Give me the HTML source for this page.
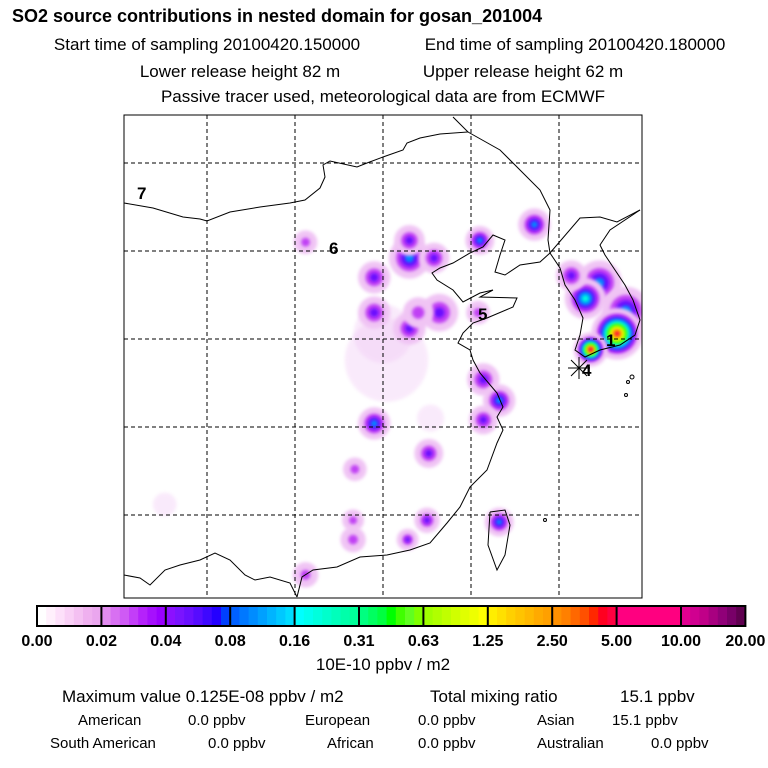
<!DOCTYPE html>
<html><head><meta charset="utf-8"><style>
body{margin:0;background:#fff;width:768px;height:768px;overflow:hidden;font-family:"Liberation Sans",sans-serif}
svg{position:absolute;left:0;top:0}
</style></head><body>
<svg width="768" height="768" viewBox="0 0 768 768">
<defs><filter id="bl" x="-50%" y="-50%" width="200%" height="200%"><feGaussianBlur stdDeviation="1.6"/></filter>
<clipPath id="mc"><rect x="124" y="115" width="518" height="483"/></clipPath></defs>
<g font-weight="bold" font-size="17" text-anchor="start">
<text x="12" y="22" font-size="18">SO2 source contributions in nested domain for gosan_201004</text>
</g>
<g font-size="17" text-anchor="middle">
<text x="207" y="50">Start time of sampling 20100420.150000</text>
<text x="575" y="50">End time of sampling 20100420.180000</text>
<text x="240" y="77">Lower release height   82 m</text>
<text x="523" y="77">Upper release height   62 m</text>
<text x="383" y="102">Passive tracer used, meteorological data are from ECMWF</text>
</g>
<g id="plume" clip-path="url(#mc)"></g>
<g id="grid" stroke="#000" stroke-width="1" stroke-dasharray="4,3"></g>
<g clip-path="url(#mc)" fill="none" stroke="#000" stroke-width="1">
<polyline points="124,203 153,208 183,217 200,219 207,221 230,212 260,207 290,203 305,200 320,188 325,177 323,165 330,161 357,167 367,163 383,157 403,150 407,143 420,138 440,134 468,132 453,117"/>
<polyline points="468,132 500,150 520,170 540,190 550,210 548,240 550,253 580,218 600,217 617,222 640,210"/>
<polyline points="550,253 540,262 520,265 505,275 495,272 500,255 505,240 493,235 483,247 470,253 453,263 440,268 432,273 437,280 453,290 463,302 480,293 493,290 480,297 517,298 513,307 487,318 473,323 463,333 458,343 470,350 473,360 480,373 497,393 503,407 497,417 503,430 497,443 487,470 470,487 460,507 447,523 430,543 410,550 387,555 360,557 337,567 313,570 302,577 297,597"/>
<polyline points="124,575 140,578 150,585 165,570 180,565 200,560 215,553 230,560 245,575 255,580 270,577 290,583 297,597"/>
<polyline points="490,512 505,510 510,525 505,555 497,570 488,545 490,512"/>
<polyline points="550,253 560,268 565,285 575,300 583,318 580,335 575,350 585,357 600,350 620,345 635,335 640,320 633,300 625,285 615,270 605,255 600,245 610,230 640,210"/>
<circle cx="632" cy="377" r="2"/><circle cx="628" cy="382" r="1.5"/><circle cx="626" cy="395" r="1.5"/><circle cx="545" cy="520" r="1.5"/>
</g>
<rect x="124" y="115" width="518" height="483" fill="none" stroke="#000"/>
<g font-size="17" font-weight="bold">
<text x="137" y="199">7</text><text x="329" y="254">6</text><text x="478" y="320">5</text><text x="606" y="346">1</text><text x="582" y="376">4</text>
</g>
<g stroke="#000" stroke-width="1">
<line x1="568" y1="368" x2="590" y2="368"/><line x1="579" y1="357" x2="579" y2="379"/><line x1="571" y1="360" x2="587" y2="376"/><line x1="571" y1="376" x2="587" y2="360"/>
</g>
<g id="cbar"></g>
<text x="383" y="670" font-size="17" text-anchor="middle">10E-10 ppbv / m2</text>
<g font-size="17">
<text x="62" y="702">Maximum value  0.125E-08 ppbv / m2</text>
<text x="430" y="702">Total mixing ratio</text><text x="620" y="702">15.1 ppbv</text>
</g>
<g font-size="15">
<text x="78" y="725">American</text><text x="188" y="725">0.0 ppbv</text>
<text x="305" y="725">European</text><text x="418" y="725">0.0 ppbv</text>
<text x="537" y="725">Asian</text><text x="612" y="725">15.1 ppbv</text>
<text x="50" y="748">South American</text><text x="208" y="748">0.0 ppbv</text>
<text x="327" y="748">African</text><text x="418" y="748">0.0 ppbv</text>
<text x="537" y="748">Australian</text><text x="651" y="748">0.0 ppbv</text>
</g>
</svg>
<script>
const NS="http://www.w3.org/2000/svg";
const cbLabels=["0.00","0.02","0.04","0.08","0.16","0.31","0.63","1.25","2.50","5.00","10.00","20.00"];
const cbColors=[["#ffffff","#fff0fc","#fde0fa","#f9d0f6","#f4c0f2","#efb0ef","#eaa6ee"],
["#e28cf0","#d870f2","#cf5af5","#c33ef8","#b522fb","#a610fd","#9a00ff"],
["#8c10ff","#7a14ff","#6a10ff","#560cff","#3e08ff","#2400ff","#0040ff"],
["#0060ff","#0078ff","#008cff","#00a0ff","#00b4ff","#00c8ff","#00dcff"],
["#00ffff","#00ffee","#00ffdd","#00ffcc","#00ffbb","#00ffaa","#00ff99"],
["#00ff80","#00ff60","#00ff40","#00ff00","#40ff00","#60ff20","#80ff00"],
["#a0ff00","#b0ff00","#c0ff00","#d0ff00","#e0ff00","#eeff00","#ffff00"],
["#ffee00","#ffe000","#ffd000","#ffc400","#ffb800","#ffaa00","#ffa000"],
["#ff9000","#ff8000","#ff6800","#ff5000","#ff2800","#ff0020","#ff0040"],
["#ff0080","#ff0080","#ff0080","#ff0080","#ff0080","#ff0080","#ff0080"],
["#e00090","#d00090","#c00088","#a80080","#900078","#780068","#600050"]];
const cb=document.getElementById('cbar');
const cx0=37,cw=64.4,cy=606,ch=20;
cbColors.forEach((seg,i)=>{seg.forEach((c,j)=>{const r=document.createElementNS(NS,'rect');
r.setAttribute('x',cx0+i*cw+j*cw/7);r.setAttribute('y',cy);r.setAttribute('width',cw/7+0.5);r.setAttribute('height',ch);r.setAttribute('fill',c);


cb.appendChild(r);});});
const fr=document.createElementNS(NS,'rect');fr.setAttribute('x',cx0);fr.setAttribute('y',cy);fr.setAttribute('width',cw*11);fr.setAttribute('height',ch);fr.setAttribute('fill','none');fr.setAttribute('stroke','#000');fr.setAttribute('stroke-width','2');


cb.appendChild(fr);
cbLabels.forEach((l,i)=>{const x=cx0+i*cw;
if(i>0&&i<11){const ln=document.createElementNS(NS,'line');ln.setAttribute('x1',x);ln.setAttribute('x2',x);ln.setAttribute('y1',cy);ln.setAttribute('y2',cy+ch);ln.setAttribute('stroke','#000');ln.setAttribute('stroke-width','2');


cb.appendChild(ln);}
const t=document.createElementNS(NS,'text');t.setAttribute('x',Math.min(Math.max(x,20),746));t.setAttribute('y',646);t.setAttribute('font-size','16');t.setAttribute('font-weight','bold');t.setAttribute('text-anchor','middle');t.textContent=l;


cb.appendChild(t);});
const gridLons=[105,110,115,120,125];
const gridLats=[45,40,35,30,25];
const X=lon=>207+(lon-105)*17.6, Y=lat=>163+(45-lat)*17.6;
const g=document.getElementById('grid');
gridLons.forEach(l=>{const e=document.createElementNS(NS,'line');e.setAttribute('x1',X(l));e.setAttribute('x2',X(l));e.setAttribute('y1',115);e.setAttribute('y2',598);


g.appendChild(e);});
gridLats.forEach(l=>{const e=document.createElementNS(NS,'line');e.setAttribute('y1',Y(l));e.setAttribute('y2',Y(l));e.setAttribute('x1',124);e.setAttribute('x2',642);


g.appendChild(e);});
// sources: lon, lat, peak level index, radius (deg)
const srcLon=[115.2,115.0,123.6,120.5,110.6,116.5,116.5,117.9,114.5,114.5,116.5,118.2,117.0,120.4,114.5,117.7,120.7,121.6,120.7,117.6,113.4,121.6,117.5,113.3,113.3,116.4,110.6,102.6,127.3,126.5,128.8,125.7,128.3,126.8];
const srcLat=[33.8,35.3,41.5,40.6,40.5,39.6,40.6,39.6,38.5,36.5,35.6,36.5,36.5,36.5,30.2,30.5,32.7,31.5,30.4,28.5,27.6,24.6,24.7,24.7,23.6,23.6,21.6,25.6,38.2,37.3,36.6,38.6,35.3,34.4];
const srcLvl=[0,0,3,3,1,3,2,2,2,2,2,2,1,1,3,0,2,3,2,2,1,3,2,1,1,2,1,0,3,4,3,2,8,8];
const srcRad=[2.2,1.5,0.75,0.65,0.5,1.0,0.7,0.7,0.75,0.75,0.75,0.9,0.7,0.5,0.75,0.6,0.75,0.75,0.65,0.65,0.5,0.65,0.55,0.45,0.55,0.45,0.55,0.5,1.1,1.0,1.2,0.7,1.3,0.8];
const lvlColors=["#f0c4f4","#c040f4","#6a10ff","#0088ff","#00ffdd","#40ff00","#e0ff00","#ffb000","#ff0040"];
const p=document.getElementById('plume');
srcLon.forEach((lon,i)=>{const lv=srcLvl[i],r0=srcRad[i]*17.6;
for(let k=0;k<=lv;k++){const c=document.createElementNS(NS,'circle');
c.setAttribute('cx',X(lon));c.setAttribute('cy',Y(srcLat[i]));
c.setAttribute('r',Math.max(2.5,r0*(1-k/(lv+1))+(k==0?3:0)));
c.setAttribute('fill',lvlColors[k]);c.setAttribute('filter','url(#bl)');
if(lv==0){c.setAttribute('opacity','0.35');}


p.appendChild(c);}});
</script>
</body></html>
